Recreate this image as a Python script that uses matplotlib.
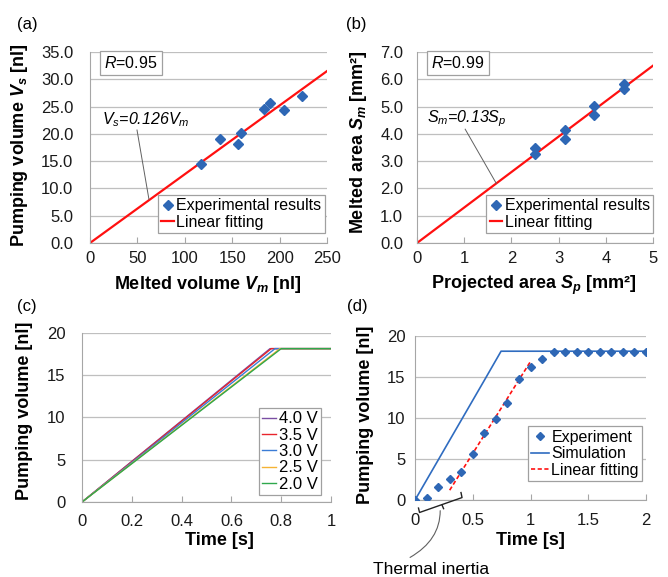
import numpy as np
import matplotlib
matplotlib.use('Agg')
import matplotlib.pyplot as plt

plt.rcParams['font.family'] = ['Liberation Sans', 'DejaVu Sans']
plt.rcParams['mathtext.fontset'] = 'custom'
plt.rcParams['mathtext.rm'] = 'Liberation Sans'
plt.rcParams['mathtext.it'] = 'Liberation Sans:italic'
plt.rcParams['mathtext.bf'] = 'Liberation Sans:bold:italic'

# (a) melted volume vs pumping volume
vm = [117, 137, 156, 159, 184, 190, 205, 224]
vs = [14.4, 19.1, 18.2, 20.2, 24.6, 25.7, 24.3, 26.9]
slope_a = 0.126

# (b) projected area vs melted area
sp = [2.5, 2.5, 3.13, 3.13, 3.75, 3.75, 4.38, 4.38]
sm = [3.47, 3.25, 4.14, 3.82, 5.03, 4.68, 5.83, 5.66]
slope_b = 1.3

# (c) simulated pumping volume for each voltage
volt_labels = ['4.0 V', '3.5 V', '3.0 V', '2.5 V', '2.0 V']
t_end = [0.755, 0.76, 0.775, 0.795, 0.80]
v_max = 18.15

# (d) experiment vs simulation
t_exp = [0, 0.1, 0.2, 0.3, 0.4, 0.5, 0.6, 0.7, 0.8, 0.9, 1.0, 1.1,
         1.2, 1.3, 1.4, 1.5, 1.6, 1.7, 1.8, 1.9, 2.0]
v_exp = [0, 0.3, 1.55, 2.55, 3.45, 5.65, 8.2, 9.85, 11.8, 14.8, 16.2, 17.2,
         18.1, 18.1, 18.1, 18.1, 18.1, 18.1, 18.1, 18.1, 18.1]
t_sim = [0, 0.6, 0.745, 2.0]
v_sim = [0, 14.6, 18.15, 18.15]
t_fit = [0.3, 1.0]
v_fit = [1.2, 16.9]

BLUE = '#2e67b5'
RED = '#ff1010'
GRID = '#bfbfbf'
volt_colors = ['#7a4ea3', '#e8242c', '#3b7cd6', '#f5b335', '#2ea84c']

TICK = 12
LABEL = 13
LEG = 11.5


def style(ax, ypad, xpad):
    ax.spines['top'].set_visible(False)
    ax.spines['right'].set_visible(False)
    ax.spines['left'].set_color('#a6a6a6')
    ax.spines['bottom'].set_color('#a6a6a6')
    ax.grid(True, axis='y', color=GRID, lw=0.9)
    ax.set_axisbelow(True)
    ax.tick_params(axis='y', length=0, pad=ypad, labelsize=TICK, labelcolor='#1a1a1a')
    ax.tick_params(axis='x', direction='in', length=4, color='#a6a6a6',
                   pad=xpad, labelsize=TICK, labelcolor='#1a1a1a')


def legend(ax, anchor, handles=None, labels=None, hl=0.8, fs=LEG, sp=0.1):
    args = [] if handles is None else [handles, labels]
    lg = ax.legend(*args, loc='lower right', bbox_to_anchor=anchor, borderaxespad=0,
                   fontsize=fs, fancybox=False, framealpha=1, edgecolor='#a0a0a0',
                   handlelength=hl, handletextpad=0.15, borderpad=0.2,
                   labelspacing=sp, numpoints=1)
    lg.get_frame().set_linewidth(0.9)
    return lg


fig = plt.figure(figsize=(6.68, 5.77), dpi=100)

# ---- (a)
ax1 = fig.add_axes([0.1347, 0.5789, 0.3548, 0.3310])
style(ax1, 12, 6)
xa = np.array([0, 250])
ax1.plot(vm, vs, 'D', color=BLUE, ms=4.8, label='Experimental results', zorder=3)
ax1.plot(xa, slope_a * xa, color=RED, lw=1.6, label='Linear fitting', zorder=2)
ax1.set_xlim(0, 250)
ax1.set_ylim(0, 35)
ax1.set_xticks(np.arange(0, 251, 50))
ax1.set_yticks(np.arange(0, 36, 5))
ax1.set_yticklabels(['%.1f' % v for v in np.arange(0, 36, 5)])
ax1.set_xlabel(r'Melted volume $\mathbf{V_m}$ [nl]', fontsize=LABEL, fontweight='bold')
ax1.set_ylabel(r'Pumping volume $\mathbf{V_s}$ [nl]', fontsize=LABEL, fontweight='bold')
ax1.xaxis.set_label_coords(0.498, -0.16)
ax1.yaxis.set_label_coords(-0.253, 0.51)
legend(ax1, (0.99, 0.052))
ax1.text(0.173, 0.944, r'$R$=0.95', transform=ax1.transAxes, fontsize=LEG,
         ha='center', va='center',
         bbox=dict(boxstyle='square,pad=0.25', fc='white', ec='#a0a0a0', lw=0.9))
ax1.text(0.049, 0.644, r'$V_s$=0.126$V_m$', transform=ax1.transAxes, fontsize=LEG,
         style='italic', ha='left', va='center')
ax1.plot([49.6, 62.2], [20.7, 8.0], color='#606060', lw=0.7, zorder=4)
fig.text(0.025, 0.957, '(a)', fontsize=12, va='center')

# ---- (b)
ax2 = fig.add_axes([0.6243, 0.5789, 0.3533, 0.3310])
style(ax2, 10, 6)
xb = np.array([0, 5])
ax2.plot(sp, sm, 'D', color=BLUE, ms=4.8, label='Experimental results', zorder=3)
ax2.plot(xb, slope_b * xb, color=RED, lw=1.6, label='Linear fitting', zorder=2)
ax2.set_xlim(0, 5)
ax2.set_ylim(0, 7)
ax2.set_xticks(np.arange(0, 6, 1))
ax2.set_yticks(np.arange(0, 8, 1))
ax2.set_yticklabels(['%.1f' % v for v in np.arange(0, 8, 1)])
ax2.set_xlabel('Projected area $\\mathbf{S_p}$ [mm²]', fontsize=LABEL, fontweight='bold')
ax2.set_ylabel('Melted area $\\mathbf{S_m}$ [mm²]', fontsize=LABEL, fontweight='bold')
ax2.xaxis.set_label_coords(0.496, -0.16)
ax2.yaxis.set_label_coords(-0.203, 0.53)
legend(ax2, (1.0, 0.052))
ax2.text(0.174, 0.944, r'$R$=0.99', transform=ax2.transAxes, fontsize=LEG,
         ha='center', va='center',
         bbox=dict(boxstyle='square,pad=0.25', fc='white', ec='#a0a0a0', lw=0.9))
ax2.text(0.041, 0.653, r'$S_m$=0.13$S_p$', transform=ax2.transAxes, fontsize=LEG,
         style='italic', ha='left', va='center')
ax2.plot([1.02, 1.68], [4.17, 2.18], color='#606060', lw=0.7, zorder=4)
fig.text(0.518, 0.957, '(b)', fontsize=12, va='center')

# ---- (c)
ax3 = fig.add_axes([0.1228, 0.1300, 0.3728, 0.2929])
style(ax3, 12, 9)
for lab, te, c in zip(volt_labels, t_end, volt_colors):
    ax3.plot([0, te, 1.0], [0, v_max, v_max], color=c, lw=1.0, label=lab)
ax3.set_xlim(0, 1)
ax3.set_ylim(0, 20)
ax3.set_xticks(np.arange(0, 1.01, 0.2))
ax3.set_xticklabels(['0', '0.2', '0.4', '0.6', '0.8', '1'])
ax3.set_yticks(np.arange(0, 21, 5))
ax3.set_xlabel('Time [s]', fontsize=LABEL, fontweight='bold')
ax3.set_ylabel('Pumping volume [nl]', fontsize=LABEL, fontweight='bold')
ax3.xaxis.set_label_coords(0.55, -0.18)
ax3.yaxis.set_label_coords(-0.197, 0.54)
legend(ax3, (0.96, 0.041), hl=0.85, fs=12, sp=0.08)
fig.text(0.025, 0.468, '(c)', fontsize=12, va='center')

# ---- (d)
ax4 = fig.add_axes([0.6213, 0.1334, 0.3458, 0.2842])
style(ax4, 7, 9)
ax4.plot(t_sim, v_sim, color='#2f6cc0', lw=1.2, label='Simulation', zorder=2)
ax4.plot(t_fit, v_fit, '--', color=RED, lw=1.2, dashes=(2.5, 1.5),
         label='Linear fitting', zorder=2)
ax4.plot(t_exp, v_exp, 'D', color=BLUE, ms=4.3, label='Experiment', zorder=3)
ax4.set_xlim(0, 2)
ax4.set_ylim(0, 20)
ax4.set_xticks(np.arange(0, 2.01, 0.5))
ax4.set_xticklabels(['0', '0.5', '1', '1.5', '2'])
ax4.set_yticks(np.arange(0, 21, 5))
ax4.set_xlabel('Time [s]', fontsize=LABEL, fontweight='bold')
ax4.set_ylabel('Pumping volume [nl]', fontsize=LABEL, fontweight='bold')
ax4.xaxis.set_label_coords(0.50, -0.195)
ax4.yaxis.set_label_coords(-0.177, 0.52)
h, l = ax4.get_legend_handles_labels()
order = [2, 0, 1]
legend(ax4, (0.983, 0.116), [h[i] for i in order], [l[i] for i in order], hl=1.1)

# bracket marking the delayed start, with a curved leader to its caption
bx = [0.030, 0.039, 0.407, 0.398]
by = [-0.98, -1.52, 0.30, 0.91]
ax4.plot(bx, by, color='#222222', lw=1.0, clip_on=False, zorder=4)
ax4.plot([0.234, 0.247], [-0.61, -1.05], color='#222222', lw=1.0, clip_on=False)
ax4.annotate('', xy=(0.218, -1.3), xytext=(-0.043, -7.0), annotation_clip=False,
             arrowprops=dict(arrowstyle='-', color='#606060', lw=0.8,
                             shrinkA=0, shrinkB=0,
                             connectionstyle='angle3,angleA=30,angleB=90'))
ax4.text(0.14, -8.45, 'Thermal inertia', fontsize=12.5, ha='center', va='center',
         clip_on=False)
fig.text(0.519, 0.468, '(d)', fontsize=12, va='center')

fig.savefig('out.png', dpi=100)
